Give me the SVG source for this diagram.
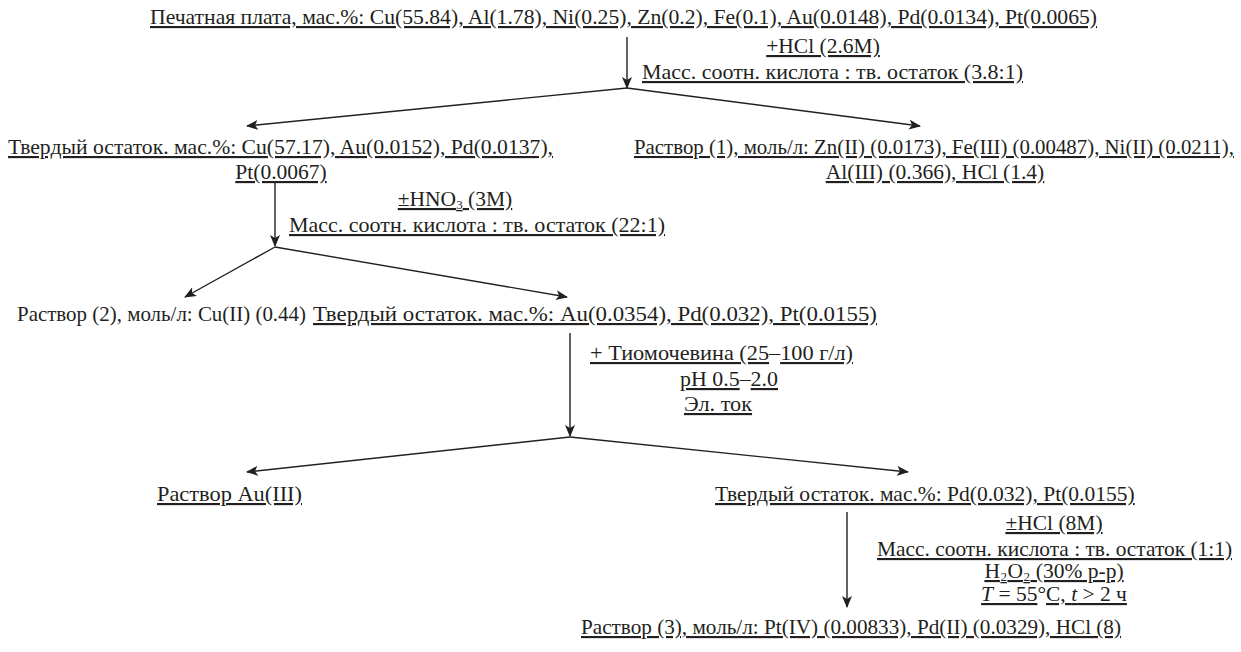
<svg xmlns="http://www.w3.org/2000/svg" width="1241" height="652" viewBox="0 0 1241 652" font-family="Liberation Serif, DejaVu Serif, serif">
<style>
text{font-family:'Liberation Serif','DejaVu Serif',serif;font-size:21.5px;fill:#231f20}
.u{text-decoration:underline}
.m{text-anchor:middle}
.c{stroke:#231f20;stroke-width:1.4;fill:none}
.sub{font-size:13px}
</style>
<defs>
<marker id="ah" viewBox="0 0 12 10" refX="11" refY="5" markerWidth="12" markerHeight="10" markerUnits="userSpaceOnUse" orient="auto">
<path d="M0,0 L12,5 L0,10 L3,5 z" fill="#231f20"/>
</marker>
</defs>
<rect width="1241" height="652" fill="#fff"/>
<g id="connectors">
<line class="c" x1="627" y1="37" x2="627" y2="88" marker-end="url(#ah)"/>
<line class="c" x1="627" y1="88" x2="247" y2="126" marker-end="url(#ah)"/>
<line class="c" x1="627" y1="88" x2="920" y2="126" marker-end="url(#ah)"/>
<line class="c" x1="275" y1="183" x2="275" y2="246" marker-end="url(#ah)"/>
<line class="c" x1="275" y1="247" x2="185" y2="297" marker-end="url(#ah)"/>
<line class="c" x1="275" y1="247" x2="567" y2="297" marker-end="url(#ah)"/>
<line class="c" x1="570" y1="333" x2="570" y2="436" marker-end="url(#ah)"/>
<line class="c" x1="570" y1="437" x2="247" y2="472" marker-end="url(#ah)"/>
<line class="c" x1="570" y1="437" x2="908" y2="472" marker-end="url(#ah)"/>
<line class="c" x1="847" y1="512" x2="847" y2="607" marker-end="url(#ah)"/>
</g>
<g id="n-board">
<text class="u" x="150" y="24" textLength="947" lengthAdjust="spacingAndGlyphs">Печатная плата, мас.%: Cu(55.84), Al(1.78), Ni(0.25), Zn(0.2), Fe(0.1), Au(0.0148), Pd(0.0134), Pt(0.0065)</text>
</g>
<g id="l-hcl1">
<text class="u m" x="823" y="53">+HCl (2.6M)</text>
<text class="u" x="642" y="79" textLength="381" lengthAdjust="spacingAndGlyphs">Масс. соотн. кислота : тв. остаток (3.8:1)</text>
</g>
<g id="n-solid1">
<text class="u" x="8" y="154" textLength="545" lengthAdjust="spacingAndGlyphs">Твердый остаток. мас.%: Cu(57.17), Au(0.0152), Pd(0.0137),</text>
<text class="u m" x="281" y="179">Pt(0.0067)</text>
</g>
<g id="n-sol1">
<text class="u" x="634" y="154" style="font-size:20.6px" textLength="600" lengthAdjust="spacingAndGlyphs">Раствор (1), моль/л: Zn(II) (0.0173), Fe(III) (0.00487), Ni(II) (0.0211),</text>
<text class="u m" x="935" y="179">Al(III) (0.366), HCl (1.4)</text>
</g>
<g id="l-hno3">
<text class="m" x="455" y="206"><tspan class="u">±HNO</tspan><tspan class="u sub" dy="3">3</tspan><tspan class="u" dy="-3"> (3M)</tspan></text>
<text class="u" x="289" y="232" textLength="376" lengthAdjust="spacingAndGlyphs">Масс. соотн. кислота : тв. остаток (22:1)</text>
</g>
<g id="n-sol2">
<text x="17" y="321" textLength="289" lengthAdjust="spacingAndGlyphs">Раствор (2), моль/л: Cu(II) (0.44)</text>
</g>
<g id="n-solid2">
<text class="u" x="313" y="321" textLength="564" lengthAdjust="spacingAndGlyphs">Твердый остаток. мас.%: Au(0.0354), Pd(0.032), Pt(0.0155)</text>
</g>
<g id="l-thio">
<text x="590" y="360" textLength="263" lengthAdjust="spacingAndGlyphs"><tspan class="u">+ Тиомочевина (25</tspan>–<tspan class="u">100 г/л)</tspan></text>
<text x="680" y="386" textLength="98" lengthAdjust="spacingAndGlyphs"><tspan class="u">pH 0.5</tspan>–<tspan class="u">2.0</tspan></text>
<text class="u" x="684" y="411" textLength="68" lengthAdjust="spacingAndGlyphs">Эл. ток</text>
</g>
<g id="n-au">
<text class="u" x="157" y="501" textLength="145" lengthAdjust="spacingAndGlyphs">Раствор Au(III)</text>
</g>
<g id="n-solid3">
<text class="u" x="715" y="501">Твердый остаток. мас.%: Pd(0.032), Pt(0.0155)</text>
</g>
<g id="l-hcl8">
<text class="u m" x="1054" y="530">±HCl (8M)</text>
<text class="u" x="877" y="556" textLength="355" lengthAdjust="spacingAndGlyphs">Масс. соотн. кислота : тв. остаток (1:1)</text>
<text class="m" x="1054" y="578"><tspan class="u">H</tspan><tspan class="u sub" dx="0.5" dy="3">2</tspan><tspan class="u" dx="0.5" dy="-3">O</tspan><tspan class="u sub" dx="0.5" dy="3">2</tspan><tspan class="u" dx="0.5" dy="-3"> (30% р-р)</tspan></text>
<text class="m" x="1054" y="601"><tspan class="u" font-style="italic">T</tspan><tspan class="u"> = 55</tspan>°<tspan class="u">C, </tspan><tspan class="u" font-style="italic">t</tspan><tspan class="u"> &gt; 2 ч</tspan></text>
</g>
<g id="n-sol3">
<text class="u" x="581" y="634" textLength="540" lengthAdjust="spacingAndGlyphs">Раствор (3), моль/л: Pt(IV) (0.00833), Pd(II) (0.0329), HCl (8)</text>
</g>
</svg>
